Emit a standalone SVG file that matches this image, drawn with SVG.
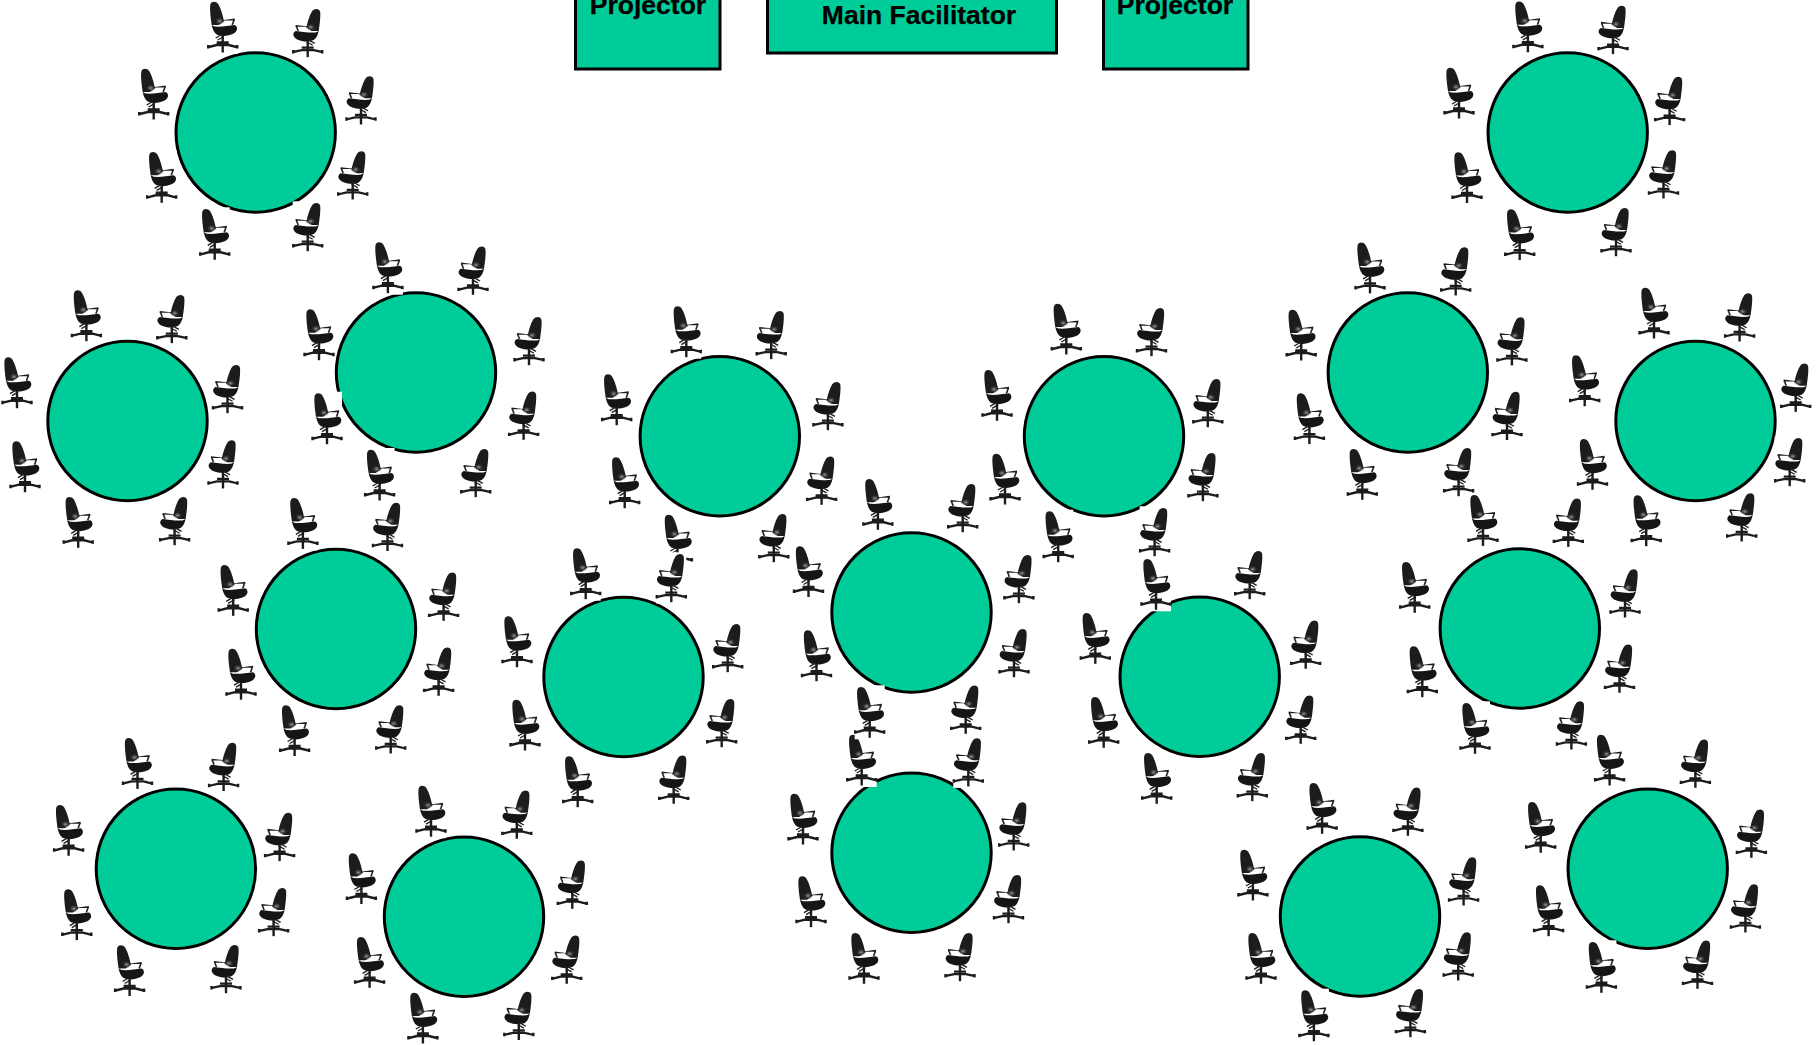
<svg xmlns="http://www.w3.org/2000/svg" width="1817" height="1045" viewBox="0 0 1817 1045">
<style>
.n{fill:#00cc99;stroke:#000;stroke-width:3}
.t{font-family:"Liberation Sans",Arial,sans-serif;font-weight:700;font-size:26.5px;fill:#000;text-anchor:middle;stroke:#000;stroke-width:.25}
.b{fill:none;stroke:#1c1c1c;stroke-width:2.400}
</style>
<defs>
<radialGradient id="g"><stop offset="0" stop-color="#9a9a9a"/><stop offset="1" stop-color="#222" stop-opacity="0"/></radialGradient>
<g id="L">
<rect x="-15" y="-52" width="30" height="54" fill="#fff"/>
<path fill="#1c1c1c" d="M-12.500-47C-12-51-7-51.500-4.500-48C-2-44 0-37 1-32L12-33.500V-31.500H2L1-30.500L-4-27L-11-27C-12-34-13-42-12.500-47Z"/>
<ellipse cx="-3" cy="-31" rx="5" ry="4" fill="url(#g)"/>
<path fill="none" stroke="#222" stroke-width="1.600" d="M11.500-32.500L9.500-27"/>
<path fill="#151515" d="M-11-27L-8-25.500C-2-25 6-26 12-27C15.500-25 15-21 11-18.500C5-15.500-2-15.500-6-17.500C-9-19.500-10-23-11-27Z"/>
<path stroke="#222" stroke-width="1.400" fill="none" d="M-7-14L-1-17.500M-5-12L1-15.500"/>
<path class="b" d="M0-17V0.500"/>
<path class="b" d="M-14-5L-6-7H6L14-5M-14.500-7V-3.500M14.500-7V-3.500M-6-9.500H6"/>
</g>
<g id="R" transform="scale(-1,.95)"><use href="#L"/></g>
</defs>
<rect width="1817" height="1045" fill="#fff"/>
<g id="projector-left"><rect class="n" x="575.500" y="-20" width="144.500" height="89"/><text class="t" x="648" y="13.500">Projector</text></g>
<g id="main-facilitator"><rect class="n" x="767.500" y="-20" width="289" height="73"/><text class="t" x="919" y="24">Main Facilitator</text></g>
<g id="projector-right"><rect class="n" x="1103.500" y="-20" width="144.500" height="89"/><text class="t" x="1175" y="13.500">Projector</text></g>
<g id="table1"><circle class="n" cx="255.700" cy="132.500" r="79.700"/><use href="#L" x="222.700" y="52"/><use href="#R" x="307.700" y="56.700"/><use href="#L" x="153.700" y="119"/><use href="#R" x="361" y="124"/><use href="#L" x="161.700" y="202.300"/><use href="#R" x="352.700" y="199"/><use href="#L" x="214.700" y="259.300"/><use href="#R" x="307.700" y="250.700"/></g>
<g id="table2"><use href="#L" x="1519.700" y="259.600"/><use href="#R" x="1616" y="255.700"/><circle class="n" cx="1567.700" cy="132.500" r="79.700"/><use href="#L" x="1527.900" y="51.800"/><use href="#R" x="1613" y="53.600"/><use href="#L" x="1459" y="118"/><use href="#R" x="1669.600" y="124.600"/><use href="#L" x="1467" y="202.500"/><use href="#R" x="1663.500" y="198"/></g>
<g id="table3"><use href="#L" x="78.200" y="547.300"/><use href="#R" x="174.600" y="544.700"/><circle class="n" cx="127.500" cy="421" r="79.700"/><use href="#L" x="86.400" y="340.700"/><use href="#R" x="171.800" y="342.700"/><use href="#L" x="17" y="407.700"/><use href="#R" x="227.500" y="412.700"/><use href="#L" x="25" y="491.700"/><use href="#R" x="223" y="488"/></g>
<g id="table4"><circle class="n" cx="416" cy="372.500" r="79.700"/><use href="#L" x="387.900" y="292.700"/><use href="#R" x="473" y="294.300"/><use href="#L" x="319" y="359.700"/><use href="#R" x="529" y="364.700"/><use href="#L" x="327" y="443.700"/><use href="#R" x="523.600" y="439.300"/><use href="#L" x="379.600" y="500"/><use href="#R" x="475.700" y="496.700"/></g>
<g id="table5"><use href="#L" x="677.400" y="565"/><use href="#R" x="773.800" y="561.700"/><circle class="n" cx="719.800" cy="436.300" r="79.700"/><use href="#L" x="686.300" y="356.700"/><use href="#R" x="771.200" y="358.700"/><use href="#L" x="616.700" y="424.700"/><use href="#R" x="827.900" y="429.700"/><use href="#L" x="624.700" y="507.700"/><use href="#R" x="821.600" y="504.300"/></g>
<g id="table6"><circle class="n" cx="1104" cy="436.300" r="79.700"/><use href="#L" x="1066.300" y="354"/><use href="#R" x="1151.500" y="355.700"/><use href="#L" x="997" y="420.300"/><use href="#R" x="1207.800" y="426.700"/><use href="#L" x="1005" y="504"/><use href="#R" x="1202.900" y="500.700"/><use href="#L" x="1058.200" y="561.700"/><use href="#R" x="1154.600" y="555.700"/></g>
<g id="table7"><use href="#L" x="1362.300" y="499.300"/><use href="#R" x="1458.600" y="495.700"/><circle class="n" cx="1407.800" cy="372.500" r="79.700"/><use href="#L" x="1370" y="292.900"/><use href="#R" x="1455.700" y="295"/><use href="#L" x="1301.200" y="360"/><use href="#R" x="1511.900" y="365"/><use href="#L" x="1309.400" y="443.600"/><use href="#R" x="1507" y="439.600"/></g>
<g id="table8"><use href="#L" x="1646.200" y="545.700"/><use href="#R" x="1741.700" y="541"/><circle class="n" cx="1695.500" cy="421" r="79.700"/><use href="#L" x="1654" y="338"/><use href="#R" x="1739.600" y="341"/><use href="#L" x="1584.700" y="405.700"/><use href="#R" x="1795.700" y="411.400"/><use href="#L" x="1592.500" y="489.300"/><use href="#R" x="1789.700" y="485.700"/></g>
<g id="table9"><use href="#L" x="294.600" y="755.500"/><use href="#R" x="390.700" y="753"/><circle class="n" cx="336" cy="629" r="79.700"/><use href="#L" x="302.900" y="548.400"/><use href="#R" x="387.500" y="550.500"/><use href="#L" x="233.200" y="615.300"/><use href="#R" x="443.600" y="620.300"/><use href="#L" x="241" y="699.200"/><use href="#R" x="438.600" y="695.300"/></g>
<g id="table10"><use href="#L" x="577.700" y="806.700"/><use href="#R" x="673.700" y="803.300"/><circle class="n" cx="623.500" cy="677" r="79.700"/><use href="#L" x="585.700" y="598.700"/><use href="#R" x="671.300" y="601.700"/><use href="#L" x="517" y="666.700"/><use href="#R" x="727.700" y="671.700"/><use href="#L" x="525" y="750"/><use href="#R" x="721.700" y="746.700"/></g>
<g id="table14"><use href="#L" x="864" y="983.300"/><use href="#R" x="960" y="980.700"/><circle class="n" cx="911.500" cy="852.800" r="79.700"/><use href="#L" x="861.700" y="785"/><use href="#R" x="968.300" y="786"/><use href="#L" x="803" y="844"/><use href="#R" x="1013.700" y="850"/><use href="#L" x="811" y="926.700"/><use href="#R" x="1008.500" y="922.700"/></g>
<g id="table11"><use href="#R" x="965.700" y="733.300"/><circle class="n" cx="911.500" cy="612.500" r="79.700"/><use href="#L" x="877.900" y="529.300"/><use href="#R" x="962.700" y="531.700"/><use href="#L" x="808.500" y="596.500"/><use href="#R" x="1018.900" y="602.700"/><use href="#L" x="816.500" y="680.700"/><use href="#R" x="1014" y="676.700"/><use href="#L" x="869.700" y="737.300"/></g>
<g id="table12"><use href="#L" x="1156.700" y="803.300"/><use href="#R" x="1252.300" y="800.700"/><circle class="n" cx="1199.700" cy="676.700" r="79.700"/><use href="#L" x="1156" y="609.300"/><use href="#R" x="1249.700" y="598.700"/><use href="#L" x="1095.300" y="663.300"/><use href="#R" x="1305.700" y="668.300"/><use href="#L" x="1103.700" y="747.300"/><use href="#R" x="1300.700" y="743.300"/></g>
<g id="table13"><use href="#R" x="1571.400" y="749"/><circle class="n" cx="1519.800" cy="628.500" r="79.700"/><use href="#L" x="1483" y="545.400"/><use href="#R" x="1568.300" y="546.400"/><use href="#L" x="1414.700" y="612.300"/><use href="#R" x="1625" y="617"/><use href="#L" x="1422.300" y="696.700"/><use href="#R" x="1619.500" y="692.300"/><use href="#L" x="1475" y="753.300"/></g>
<g id="table15"><use href="#L" x="129.600" y="995.500"/><use href="#R" x="226" y="992.700"/><circle class="n" cx="175.900" cy="868.700" r="79.700"/><use href="#L" x="137.500" y="788.400"/><use href="#R" x="223.600" y="790.500"/><use href="#L" x="68.600" y="855.300"/><use href="#R" x="279.600" y="860.600"/><use href="#L" x="76.800" y="939.600"/><use href="#R" x="273.600" y="935.700"/></g>
<g id="table16"><use href="#L" x="422.900" y="1043"/><use href="#R" x="518.800" y="1039.500"/><circle class="n" cx="464" cy="916.700" r="79.700"/><use href="#L" x="431" y="836.200"/><use href="#R" x="516.800" y="838.300"/><use href="#L" x="361.400" y="903.500"/><use href="#R" x="572.300" y="908.300"/><use href="#L" x="369.600" y="987.300"/><use href="#R" x="566.700" y="983.300"/></g>
<g id="table17"><use href="#R" x="1410.400" y="1036.700"/><circle class="n" cx="1360" cy="916.500" r="79.700"/><use href="#L" x="1322.100" y="833.300"/><use href="#R" x="1407.900" y="835.300"/><use href="#L" x="1252.900" y="900"/><use href="#R" x="1463.600" y="905"/><use href="#L" x="1261" y="983.300"/><use href="#R" x="1458.200" y="980"/><use href="#L" x="1313.900" y="1040.700"/></g>
<g id="table18"><use href="#R" x="1697.500" y="988.300"/><circle class="n" cx="1647.700" cy="868.700" r="79.700"/><use href="#L" x="1609.600" y="785"/><use href="#R" x="1695.400" y="787.300"/><use href="#L" x="1540.700" y="852.300"/><use href="#R" x="1751.400" y="857.300"/><use href="#L" x="1548.600" y="935.700"/><use href="#R" x="1745.400" y="932"/><use href="#L" x="1601.400" y="992.300"/></g>
</svg>
